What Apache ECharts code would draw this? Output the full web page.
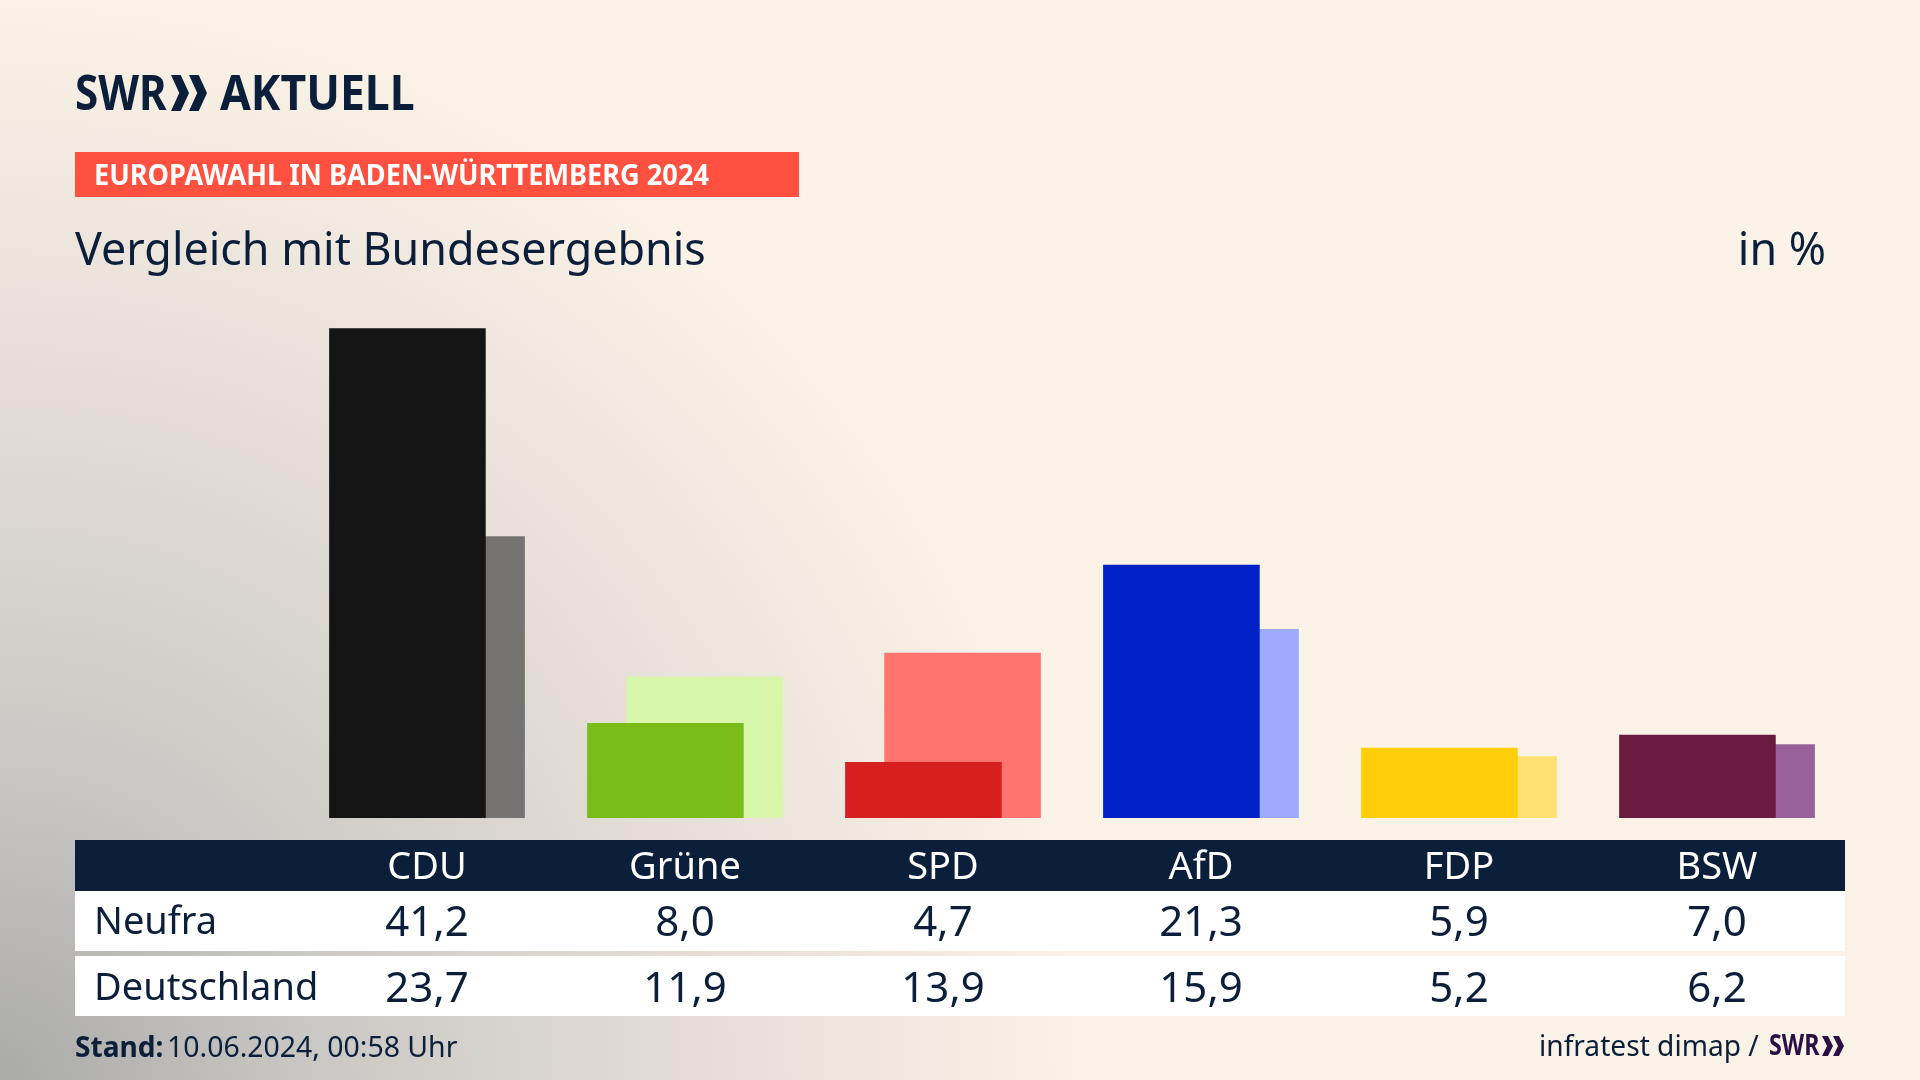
<!DOCTYPE html>
<html>
<head>
<meta charset="utf-8">
<style>
  html, body { margin: 0; padding: 0; background: #faf2e6; }
  #chart { width: 1920px; height: 1080px; }
</style>
<script src="https://cdn.jsdelivr.net/npm/echarts@6/dist/echarts.min.js"></script>
</head>
<body>
<div id="chart"></div>
<script>
const parties = ['CDU', 'Grüne', 'SPD', 'AfD', 'FDP', 'BSW']
const neufra = [41.2, 8.0, 4.7, 21.3, 5.9, 7.0]
const deutschland = [23.7, 11.9, 13.9, 15.9, 5.2, 6.2]
const rowNames = ['Neufra', 'Deutschland']

const frontColors = ['#141414', '#7abd1a', '#d61f1e', '#0020c8', '#ffce0a', '#6b1a40']
const backColors = ['#757472', '#d7f6a9', '#ff746e', '#9dabff', '#ffe070', '#9a6099']

const navy = '#0b1f3b'
const font = '"Noto Sans", sans-serif'

const fmt = v => v.toFixed(1).replace('.', ',')

// text helper, sx squeezes the text a bit since the original font is narrower
function label (text, x, y, size, opt) {
  opt = opt || {}
  return {
    type: 'text',
    x: x,
    y: y,
    z: 10,
    scaleX: opt.sx || 1,
    style: {
      text: text,
      fill: opt.color || navy,
      font: (opt.weight || 'normal') + ' ' + size + 'px ' + font,
      align: opt.align || 'left',
      verticalAlign: 'middle'
    }
  }
}

function box (x, y, w, h, color) {
  return { type: 'rect', z: 0, shape: { x: x, y: y, width: w, height: h }, style: { fill: color } }
}

// the two arrows of the SWR logo
function chevrons (x, top, w, h, color) {
  const out = []
  const arm = w * 0.27
  const tip = w * 0.5
  const step = w * 0.5
  ;[0, 1].forEach(i => {
    const l = x + i * step
    out.push({
      type: 'polygon',
      z: 10,
      shape: {
        points: [[l, top], [l + arm, top], [l + tip, top + h / 2], [l + arm, top + h], [l, top + h], [l + tip - arm, top + h / 2]]
      },
      style: { fill: color }
    })
  })
  return out
}

function tableAxis (data, margin, color, size) {
  return {
    type: 'category',
    data: data,
    position: 'bottom',
    z: 5,
    axisLine: { show: false },
    axisTick: { show: false },
    axisLabel: {
      interval: 0,
      margin: margin,
      color: color,
      fontFamily: font,
      fontSize: size,
      verticalAlign: 'middle'
    }
  }
}

const option = {
  animation: false,
  backgroundColor: {
    type: 'radial',
    x: 0,
    y: 1,
    r: 1.22,
    colorStops: [
      { offset: 0, color: '#aaaaa9' },
      { offset: 0.25, color: '#cbc9c5' },
      { offset: 0.55, color: '#e6dfd8' },
      { offset: 0.82, color: '#faf2e6' },
      { offset: 1, color: '#faf2e6' }
    ]
  },
  grid: { left: 298, right: 74, top: 283, bottom: 262 },
  xAxis: [
    tableAxis(parties, 50, '#ffffff', 38),
    tableAxis(neufra.map(fmt), 106, navy, 42),
    tableAxis(deutschland.map(fmt), 172, navy, 42)
  ],
  yAxis: { type: 'value', min: 0, max: 45, show: false },
  series: [
    {
      name: 'Neufra',
      type: 'bar',
      z: 3,
      barWidth: 156.6,
      barGap: '-75%',
      data: neufra.map((v, i) => ({ value: v, itemStyle: { color: frontColors[i] } }))
    },
    {
      name: 'Deutschland',
      type: 'bar',
      z: 2,
      barWidth: 156.6,
      data: deutschland.map((v, i) => ({ value: v, itemStyle: { color: backColors[i] } }))
    }
  ],
  graphic: {
    elements: [
      // table bands
      box(75, 840, 1770, 51, navy),
      box(75, 891, 1770, 60, '#ffffff'),
      box(75, 956, 1770, 60, '#ffffff'),
      // logo
      label('SWR', 75, 96, 49, { weight: 'bold', sx: 0.86 }),
      ...chevrons(171, 75, 36, 36, navy),
      label('AKTUELL', 220, 96, 49, { weight: 'bold', sx: 0.91 }),
      // banner and headline
      box(75, 152, 724, 45, '#ff5040'),
      label('EUROPAWAHL IN BADEN-WÜRTTEMBERG 2024', 94, 177, 28, { weight: 'bold', color: '#ffffff', sx: 0.97 }),
      label('Vergleich mit Bundesergebnis', 75, 252, 45, { sx: 0.996 }),
      label('in %', 1826, 252, 45, { align: 'right', sx: 0.996 }),
      // row names
      label(rowNames[0], 94, 923, 38),
      label(rowNames[1], 94, 989, 38),
      // footer
      label('Stand:', 75, 1049, 29, { weight: 'bold', sx: 0.97 }),
      label('10.06.2024, 00:58 Uhr', 167, 1049, 29, { sx: 0.98 }),
      label('infratest dimap /', 1539, 1048, 29, { sx: 0.97 }),
      label('SWR', 1769, 1047, 29, { weight: 'bold', color: '#2a0e45', sx: 0.8 }),
      ...chevrons(1822, 1036, 22, 20, '#2a0e45')
    ]
  }
}

const myChart = echarts.init(document.getElementById('chart'))
myChart.setOption(option)
</script>
</body>
</html>
